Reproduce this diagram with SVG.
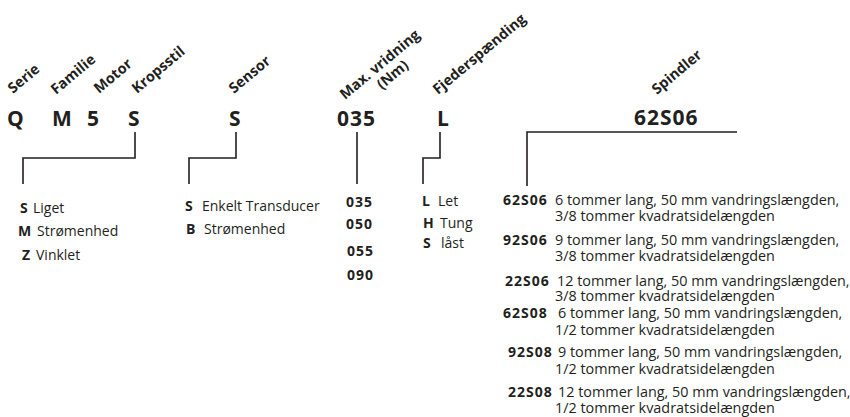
<svg xmlns="http://www.w3.org/2000/svg" width="850" height="417" viewBox="0 0 850 417">
<style>
text{font-family:"Open Sans","Noto Sans","DejaVu Sans",sans-serif;fill:#231f20}
.lbl{font-size:14.5px;font-weight:bold}
.code{font-size:21px;font-weight:bold;letter-spacing:1px}
.t{font-size:14px}
.r{font-size:14.4px}
.b{font-size:14px;font-weight:bold;letter-spacing:1px}
.ln{fill:none;stroke:#231f20;stroke-width:1.6}
</style>
<rect width="850" height="417" fill="#fff"/>
<g id="serie">
<text class="lbl" transform="translate(13,94) rotate(-40)">Serie</text>
<text class="code" x="7" y="126">Q</text>
</g>
<g id="familie">
<text class="lbl" transform="translate(56,95) rotate(-40)">Familie</text>
<text class="code" x="52" y="126">M</text>
</g>
<g id="motor">
<text class="lbl" transform="translate(99,94) rotate(-40)">Motor</text>
<text class="code" x="87" y="126">5</text>
</g>
<g id="kropsstil">
<text class="lbl" transform="translate(137,94) rotate(-40)">Kropsstil</text>
<text class="code" x="128" y="126">S</text>
<text class="b" x="20" y="213">S</text><text class="t" x="33" y="213">Liget</text>
<text class="b" x="18" y="236">M</text><text class="t" x="37" y="236">Strømenhed</text>
<text class="b" x="22" y="260">Z</text><text class="t" x="36" y="260">Vinklet</text>
</g>
<g id="sensor">
<text class="lbl" transform="translate(234,94) rotate(-40)">Sensor</text>
<text class="code" x="229" y="126">S</text>
<text class="b" x="185" y="211">S</text><text class="t" x="202" y="211">Enkelt Transducer</text>
<text class="b" x="186" y="234">B</text><text class="t" x="204" y="234">Strømenhed</text>
</g>
<g id="vridning">
<text class="lbl" transform="translate(345,100) rotate(-40)">Max. vridning</text>
<text class="lbl" transform="translate(382,90) rotate(-40)">(Nm)</text>
<text class="code" x="337" y="126">035</text>
<text class="b" x="346" y="207">035</text>
<text class="b" x="346" y="229">050</text>
<text class="b" x="347" y="256">055</text>
<text class="b" x="347" y="280">090</text>
</g>
<g id="fjeder">
<text class="lbl" transform="translate(438,95) rotate(-40)">Fjederspænding</text>
<text class="code" x="437" y="126">L</text>
<text class="b" x="422" y="206">L</text><text class="t" x="438" y="206">Let</text>
<text class="b" x="423" y="228">H</text><text class="t" x="440" y="228">Tung</text>
<text class="b" x="423" y="248">S</text><text class="t" x="441" y="248">låst</text>
</g>
<g id="spindler">
<text class="lbl" transform="translate(657,95) rotate(-40)">Spindler</text>
<text class="code" x="634" y="125">62S06</text>
<text class="b" x="503" y="205">62S06</text><text class="r" x="555" y="205">6 tommer lang, 50 mm vandringslængden,</text>
<text class="r" x="555" y="221">3/8 tommer kvadratsidelængden</text>
<text class="b" x="503" y="245">92S06</text><text class="r" x="555" y="245">9 tommer lang, 50 mm vandringslængden,</text>
<text class="r" x="555" y="261">3/8 tommer kvadratsidelængden</text>
<text class="b" x="505" y="286">22S06</text><text class="r" x="557" y="286">12 tommer lang, 50 mm vandringslængden,</text>
<text class="r" x="555" y="301">3/8 tommer kvadratsidelængden</text>
<text class="b" x="503" y="318">62S08</text><text class="r" x="558" y="318">6 tommer lang, 50 mm vandringslængden,</text>
<text class="r" x="555" y="335">1/2 tommer kvadratsidelængden</text>
<text class="b" x="508" y="357">92S08</text><text class="r" x="558" y="357">9 tommer lang, 50 mm vandringslængden,</text>
<text class="r" x="555" y="374">1/2 tommer kvadratsidelængden</text>
<text class="b" x="508" y="397">22S08</text><text class="r" x="558" y="397">12 tommer lang, 50 mm vandringslængden,</text>
<text class="r" x="555" y="413">1/2 tommer kvadratsidelængden</text>
</g>
<g id="connectors">
<path class="ln" d="M135,132V158H23V184"/>
<path class="ln" d="M236,132V158H189V184"/>
<path class="ln" d="M357,132V184"/>
<path class="ln" d="M440,132V158H423V184"/>
<path class="ln" d="M737,132H527V186"/>
</g>
</svg>
